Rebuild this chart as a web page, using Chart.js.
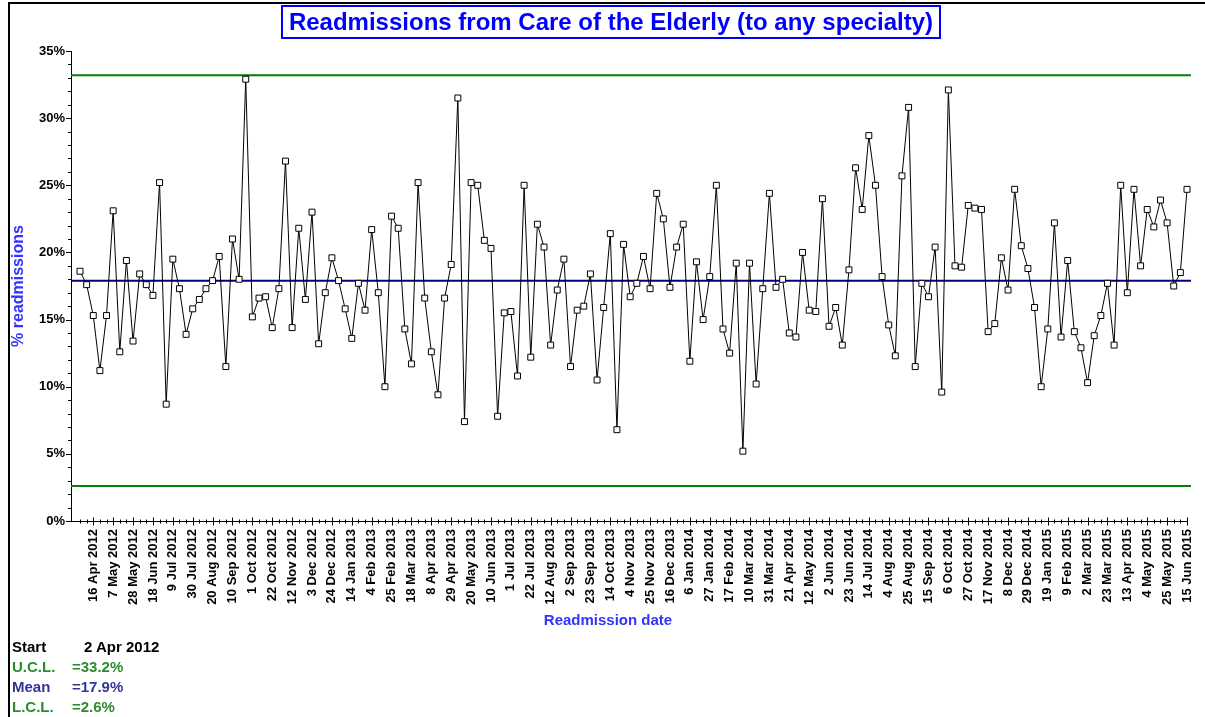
<!DOCTYPE html>
<html><head><meta charset="utf-8">
<script src="https://cdn.jsdelivr.net/npm/chart.js@4.4.0/dist/chart.umd.min.js"></script>
<style>
html,body{margin:0;padding:0;background:#fff;width:1205px;height:717px;overflow:hidden;font-family:"Liberation Sans",Arial,sans-serif;}
#wrap{position:absolute;left:0;top:0;width:1205px;height:717px;}
#frame{position:absolute;left:8px;top:2px;width:1197px;height:715px;border-left:2px solid #000;border-top:2px solid #000;box-sizing:border-box;pointer-events:none;}
#title{position:absolute;left:281px;top:5px;width:660px;height:34px;border:2px solid #0000ff;box-sizing:border-box;color:#0000ff;font-weight:bold;font-size:24px;text-align:center;line-height:30px;white-space:nowrap;}
#xtitle{position:absolute;left:508px;width:200px;top:611px;text-align:center;color:#3333ff;font-weight:bold;font-size:15px;}
.foot{position:absolute;font-weight:bold;font-size:15px;line-height:18px;white-space:nowrap;}
</style></head><body>
<div id="wrap"><canvas id="c" width="1205" height="717"></canvas></div>
<div id="frame"></div>
<div id="title">Readmissions from Care of the Elderly (to any specialty)</div>
<div id="xtitle">Readmission date</div>
<div class="foot" style="left:12px;top:638px;color:#000">Start</div>
<div class="foot" style="left:84px;top:638px;color:#000">2 Apr 2012</div>
<div class="foot" style="left:12px;top:658px;color:#2e8b2e">U.C.L.</div>
<div class="foot" style="left:72px;top:658px;color:#2e8b2e">=33.2%</div>
<div class="foot" style="left:12px;top:678px;color:#33339a">Mean</div>
<div class="foot" style="left:72px;top:678px;color:#33339a">=17.9%</div>
<div class="foot" style="left:12px;top:698px;color:#2e8b2e">L.C.L.</div>
<div class="foot" style="left:72px;top:698px;color:#2e8b2e">=2.6%</div>
<script>
// Weekly readmission percentages, week 0 = 2 Apr 2012 ... week 167 = 15 Jun 2015
const readmissionPct = [
18.6,17.6,15.3,11.2,15.3,23.1,12.6,19.4,13.4,18.4,
17.6,16.8,25.2,8.7,19.5,17.3,13.9,15.8,16.5,17.3,
17.9,19.7,11.5,21.0,18.0,32.9,15.2,16.6,16.7,14.4,
17.3,26.8,14.4,21.8,16.5,23.0,13.2,17.0,19.6,17.9,
15.8,13.6,17.7,15.7,21.7,17.0,10.0,22.7,21.8,14.3,
11.7,25.2,16.6,12.6,9.4,16.6,19.1,31.5,7.4,25.2,
25.0,20.9,20.3,7.8,15.5,15.6,10.8,25.0,12.2,22.1,
20.4,13.1,17.2,19.5,11.5,15.7,16.0,18.4,10.5,15.9,
21.4,6.8,20.6,16.7,17.7,19.7,17.3,24.4,22.5,17.4,
20.4,22.1,11.9,19.3,15.0,18.2,25.0,14.3,12.5,19.2,
5.2,19.2,10.2,17.3,24.4,17.4,18.0,14.0,13.7,20.0,
15.7,15.6,24.0,14.5,15.9,13.1,18.7,26.3,23.2,28.7,
25.0,18.2,14.6,12.3,25.7,30.8,11.5,17.7,16.7,20.4,
9.6,32.1,19.0,18.9,23.5,23.3,23.2,14.1,14.7,19.6,
17.2,24.7,20.5,18.8,15.9,10.0,14.3,22.2,13.7,19.4,
14.1,12.9,10.3,13.8,15.3,17.7,13.1,25.0,17.0,24.7,
19.0,23.2,21.9,23.9,22.2,17.5,18.5,24.7
];
const weekIndex = readmissionPct.map((_, i) => i);
// Tick labels: every 3rd week starting at week 2 (16 Apr 2012)
const tickLabels = [
"16 Apr 2012","7 May 2012","28 May 2012","18 Jun 2012","9 Jul 2012","30 Jul 2012","20 Aug 2012","10 Sep 2012",
"1 Oct 2012","22 Oct 2012","12 Nov 2012","3 Dec 2012","24 Dec 2012","14 Jan 2013","4 Feb 2013","25 Feb 2013",
"18 Mar 2013","8 Apr 2013","29 Apr 2013","20 May 2013","10 Jun 2013","1 Jul 2013","22 Jul 2013","12 Aug 2013",
"2 Sep 2013","23 Sep 2013","14 Oct 2013","4 Nov 2013","25 Nov 2013","16 Dec 2013","6 Jan 2014","27 Jan 2014",
"17 Feb 2014","10 Mar 2014","31 Mar 2014","21 Apr 2014","12 May 2014","2 Jun 2014","23 Jun 2014","14 Jul 2014",
"4 Aug 2014","25 Aug 2014","15 Sep 2014","6 Oct 2014","27 Oct 2014","17 Nov 2014","8 Dec 2014","29 Dec 2014",
"19 Jan 2015","9 Feb 2015","2 Mar 2015","23 Mar 2015","13 Apr 2015","4 May 2015","25 May 2015","15 Jun 2015"
];
const firstLabelWeek = 2, labelEvery = 3;
const UCL = 33.2, MEAN = 17.9, LCL = 2.6;
const yTicks = [0,5,10,15,20,25,30,35];

const X_MIN = -1.36, X_MAX = weekIndex[weekIndex.length-1];
const LINE_END = X_MAX + 0.6;

const tickPlugin = {
  id: 'customTicks',
  afterDraw(chart) {
    const ctx = chart.ctx, xs = chart.scales.x, ys = chart.scales.y;
    ctx.save();
    ctx.strokeStyle = '#000'; ctx.lineWidth = 1;
    const yb = Math.round(ys.getPixelForValue(0)) + 0.5;
    weekIndex.forEach(i => {
      const px = Math.round(xs.getPixelForValue(i)) + 0.5;
      const major = (i - firstLabelWeek) % labelEvery === 0 && i >= firstLabelWeek;
      const h = major ? 4 : 2;
      ctx.beginPath(); ctx.moveTo(px, yb - h); ctx.lineTo(px, yb + h); ctx.stroke();
    });
    const xl = xs.left;
    for (let v = 0; v <= 35; v++) {
      const py = Math.round(ys.getPixelForValue(v)) + 0.5;
      const major = v % 5 === 0;
      ctx.beginPath(); ctx.moveTo(xl - (major ? 5 : 3), py); ctx.lineTo(xl, py); ctx.stroke();
    }
    ctx.restore();
  }
};

const limitLine = (val, color) => ({
  data: [{x: X_MIN, y: val}, {x: LINE_END, y: val}],
  borderColor: color, borderWidth: 2, pointRadius: 0, fill: false, clip: false, tension: 0
});

new Chart(document.getElementById('c'), {
  type: 'line',
  data: {
    datasets: [
      {
        data: weekIndex.map(i => ({x: i, y: readmissionPct[i]})),
        borderColor: '#000', borderWidth: 1, tension: 0, clip: false,
        pointStyle: 'rect', pointRadius: 4.2, pointBorderWidth: 1,
        pointBorderColor: '#000', pointBackgroundColor: '#fff', fill: false
      },
      limitLine(MEAN, '#000080'),
      limitLine(UCL, '#008000'),
      limitLine(LCL, '#008000')
    ]
  },
  options: {
    responsive: false, animation: false,
    layout: { padding: { top: 51, right: 18, left: 0, bottom: 0 } },
    plugins: { legend: { display: false }, tooltip: { enabled: false }, title: { display: false } },
    scales: {
      x: {
        type: 'linear', min: X_MIN, max: X_MAX,
        afterBuildTicks: s => { s.ticks = weekIndex.map(v => ({value: v})); },
        afterFit: s => { s.height = 717 - 521; s.paddingLeft = 0; s.paddingRight = 0; },
        grid: { display: false, drawTicks: false },
        border: { display: true, color: '#000', width: 1 },
        ticks: {
          autoSkip: false, minRotation: 90, maxRotation: 90, padding: 8,
          color: '#000', font: { family: 'Liberation Sans', weight: 'bold', size: 13 },
          callback: v => {
            const k = v - firstLabelWeek;
            return (k >= 0 && k % labelEvery === 0) ? tickLabels[k / labelEvery] : '';
          }
        }
      },
      y: {
        min: 0, max: 35,
        afterBuildTicks: s => { s.ticks = yTicks.map(v => ({value: v})); },
        afterFit: s => { s.width = 71; },
        grid: { display: false, drawTicks: false },
        border: { display: true, color: '#000', width: 1 },
        ticks: {
          padding: 6, color: '#000',
          font: { family: 'Liberation Sans', weight: 'bold', size: 13 },
          callback: v => v + '%'
        },
        title: {
          display: true, text: '% readmissions', color: '#3333ff',
          font: { family: 'Liberation Sans', weight: 'bold', size: 16 },
          padding: { top: 9, bottom: 0 }
        }
      }
    }
  },
  plugins: [tickPlugin]
});
</script>
</body></html>
